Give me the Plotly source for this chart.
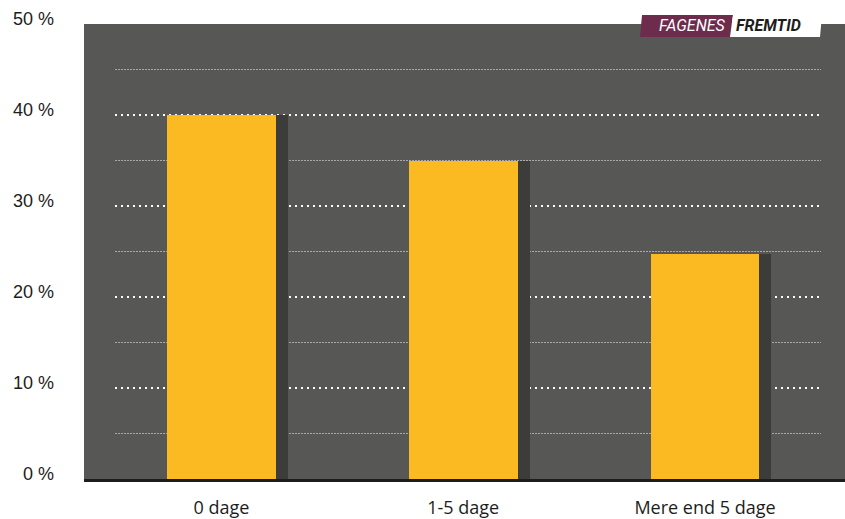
import plotly.graph_objects as go

categories = ["0 dage", "1-5 dage", "Mere end 5 dage"]
values = [40.0, 34.9, 24.7]
major_ticks = [0, 10, 20, 30, 40, 50]
major_tick_labels = ["0 %", "10 %", "20 %", "30 %", "40 %", "50 %"]
minor_grid = [5, 15, 25, 35, 45]
major_grid = [10, 20, 30, 40]

W, H = 845, 519
L, R, T, B = 84, 0, 24, 40
pw, ph = W - L - R, H - T - B

def px(x):
    return (x - L) / pw

def py(y):
    return (H - B - y) / ph

BAR_W = 0.45
SHADOW_OFF = 0.05

fig = go.Figure()
# shadow
fig.add_trace(go.Bar(
    x=categories, y=values, width=BAR_W, offset=-BAR_W / 2 + SHADOW_OFF,
    marker=dict(color="#3c3c3b", line=dict(width=0)), hoverinfo="skip", showlegend=False,
))
fig.add_trace(go.Bar(
    x=categories, y=values, width=BAR_W, offset=-BAR_W / 2,
    marker=dict(color="#fbba22", line=dict(width=0)), showlegend=False,
))

shapes = []
for g in minor_grid:
    shapes.append(dict(type="line", xref="paper", yref="y", x0=px(115), x1=px(821), y0=g, y1=g,
                       line=dict(color="#a8a8a8", width=1, dash="2px,1px"), layer="below"))
for g in major_grid:
    shapes.append(dict(type="line", xref="paper", yref="y", x0=px(115), x1=px(821), y0=g, y1=g,
                       line=dict(color="#ffffff", width=2, dash="2px,4px"), layer="below"))
# logo
shapes.append(dict(type="path", xref="paper", yref="paper",
                   path=f"M {px(642)} {py(15)} L {px(733)} {py(15)} L {px(730)} {py(37)} L {px(640)} {py(37)} Z",
                   fillcolor="#6e2c4d", line=dict(width=0), layer="above"))
shapes.append(dict(type="path", xref="paper", yref="paper",
                   path=f"M {px(733)} {py(15)} L {px(822)} {py(15)} L {px(820)} {py(37)} L {px(730)} {py(37)} Z",
                   fillcolor="#ffffff", line=dict(width=0), layer="above"))

annotations = []
for v, t in zip(major_ticks, major_tick_labels):
    annotations.append(dict(x=px(56), xref="paper", y=v, yref="y", text=t, showarrow=False,
                            xanchor="right", yanchor="middle", yshift=5,
                            font=dict(family="Liberation Sans, Arial", size=18, color="#1d1d1b")))
annotations.append(dict(x=px(728), xref="paper", y=py(26), yref="paper", text="<i>FAGENES</i>",
                        showarrow=False, xanchor="right", yanchor="middle",
                        font=dict(family="Roboto, Liberation Sans", size=16, color="#ffffff")))
annotations.append(dict(x=px(734), xref="paper", y=py(26), yref="paper", text="<b><i>FREMTID</i></b>",
                        showarrow=False, xanchor="left", yanchor="middle",
                        font=dict(family="Roboto, Liberation Sans", size=16, color="#1d1d1b")))

fig.update_layout(
    width=W, height=H,
    margin=dict(l=L, r=R, t=T, b=B, pad=0),
    paper_bgcolor="#ffffff", plot_bgcolor="#575756",
    barmode="overlay", bargap=0,
    shapes=shapes, annotations=annotations,
    xaxis=dict(type="category", range=[-0.568, 2.579], showgrid=False, zeroline=False,
               showline=True, linecolor="#1d1d1b", linewidth=3, ticks="",
               ticklabelstandoff=10,
               tickfont=dict(family="Open Sans, Lato", size=18, color="#1d1d1b"),
               fixedrange=True),
    yaxis=dict(range=[0, 50], showgrid=False, zeroline=False, showticklabels=False,
               showline=False, fixedrange=True),
)

fig.write_html("out.html")
